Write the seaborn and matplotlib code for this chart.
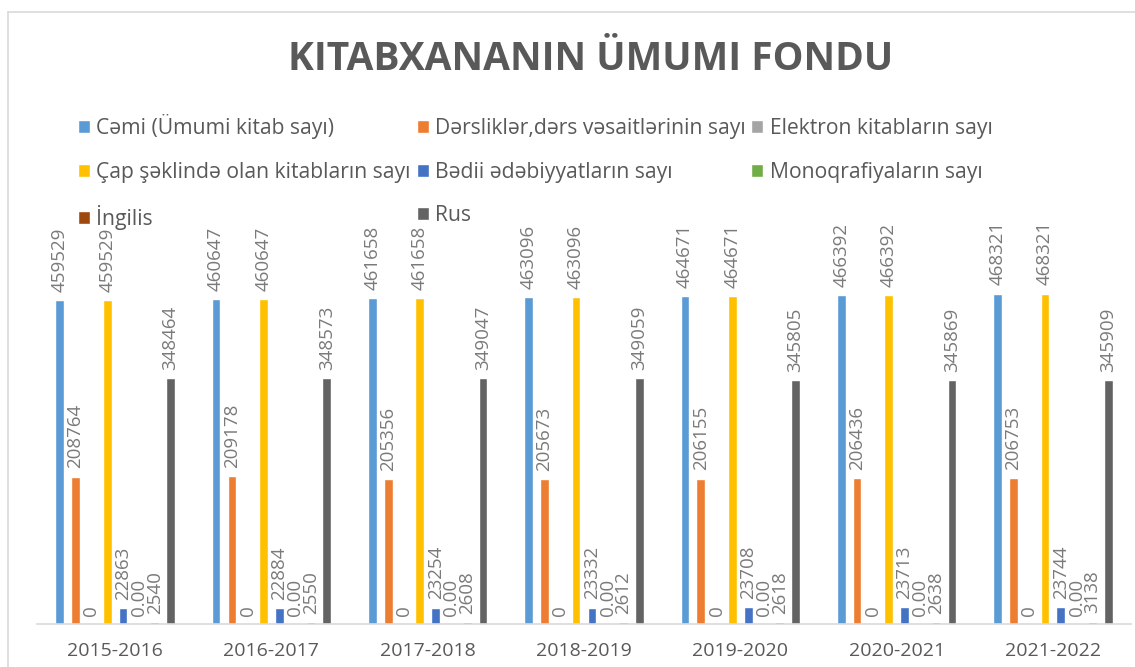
import matplotlib.pyplot as plt
import numpy as np
import pandas as pd
import seaborn as sns
from matplotlib.lines import Line2D

# data
years = ["2015-2016", "2016-2017", "2017-2018", "2018-2019",
         "2019-2020", "2020-2021", "2021-2022"]
cemi = [459529, 460647, 461658, 463096, 464671, 466392, 468321]
derslikler = [208764, 209178, 205356, 205673, 206155, 206436, 206753]
elektron = [0, 0, 0, 0, 0, 0, 0]
cap = [459529, 460647, 461658, 463096, 464671, 466392, 468321]
bedii = [22863, 22884, 23254, 23332, 23708, 23713, 23744]
monoqrafiya = [0, 0, 0, 0, 0, 0, 0]
ingilis = [2540, 2550, 2608, 2612, 2618, 2638, 3138]
rus = [348464, 348573, 349047, 349059, 345805, 345869, 345909]

series_names = [
    "Cəmi (Ümumi kitab sayı)",
    "Dərsliklər,dərs vəsaitlərinin sayı",
    "Elektron kitabların sayı",
    "Çap şəklində olan kitabların sayı",
    "Bədii ədəbiyyatların sayı",
    "Monoqrafiyaların sayı",
    "İngilis",
    "Rus",
]
series_values = [cemi, derslikler, elektron, cap, bedii, monoqrafiya, ingilis, rus]
label_fmt = ["{:.0f}", "{:.0f}", "{:.0f}", "{:.0f}", "{:.0f}", "{:.2f}", "{:.0f}", "{:.0f}"]
colors = ["#5B9BD5", "#ED7D31", "#A5A5A5", "#FFC000",
          "#4472C4", "#70AD47", "#9E480E", "#636363"]

rows = []
for name, vals in zip(series_names, series_values):
    for y, v in zip(years, vals):
        rows.append({"year": y, "series": name, "value": v})
df = pd.DataFrame(rows)

sns.set_style("white")
plt.rcParams["font.family"] = ["Open Sans", "DejaVu Sans"]
text_color = "#595959"

fig = plt.figure(figsize=(11.35, 6.67), dpi=100)
ax = fig.add_axes([37 / 1135, 43 / 667, 1094 / 1135, 352.6 / 667])

sns.barplot(
    data=df, x="year", y="value", hue="series",
    hue_order=series_names, order=years,
    palette=dict(zip(series_names, colors)),
    width=0.81, gap=0.45, errorbar=None, saturation=1,
    legend=True, ax=ax,
)

for cont, fmt in zip(ax.containers, label_fmt):
    vals = [b.get_height() for b in cont]
    ax.bar_label(cont, labels=[fmt.format(v) for v in vals],
                 rotation=90, padding=6, fontsize=13.5, color="#7a7a7a")

ax.set_ylim(0, 500000)
ax.set_xlim(-0.5, len(years) - 0.5)
ax.set_xlabel("")
ax.set_ylabel("")
ax.set_yticks([])
for side in ["top", "right", "left"]:
    ax.spines[side].set_visible(False)
ax.spines["bottom"].set_color("#d9d9d9")
ax.spines["bottom"].set_linewidth(1.2)
ax.tick_params(axis="x", length=0, pad=13, labelsize=14, labelcolor=text_color)

# legend: excel fills rows, matplotlib fills columns
handles, labels = ax.get_legend_handles_labels()
ax.get_legend().remove()
order = [0, 3, 6, 1, 4, 7, 2, 5]
fig.legend(
    [handles[i] for i in order], [labels[i] for i in order],
    ncol=3, loc="upper left", bbox_to_anchor=(78 / 1135, 1 - 114 / 667),
    frameon=False, fontsize=15.2, labelcolor=text_color,
    borderpad=0, borderaxespad=0,
    handlelength=0.57, handleheight=0.57, handletextpad=0.3,
    labelspacing=1.07, columnspacing=0.27,
)

fig.text(0.52, 1 - 59 / 667, "KITABXANANIN ÜMUMI FONDU",
         ha="center", va="center", fontsize=28, fontweight="bold",
         color=text_color)

# chart border (top and left edges visible in the reference)
fig.add_artist(Line2D([8 / 1135, 1], [1 - 12 / 667, 1 - 12 / 667],
                      color="#d9d9d9", lw=1.2, transform=fig.transFigure))
fig.add_artist(Line2D([8 / 1135, 8 / 1135], [0, 1 - 12 / 667],
                      color="#d9d9d9", lw=1.2, transform=fig.transFigure))

fig.savefig("out.png", dpi=100)
